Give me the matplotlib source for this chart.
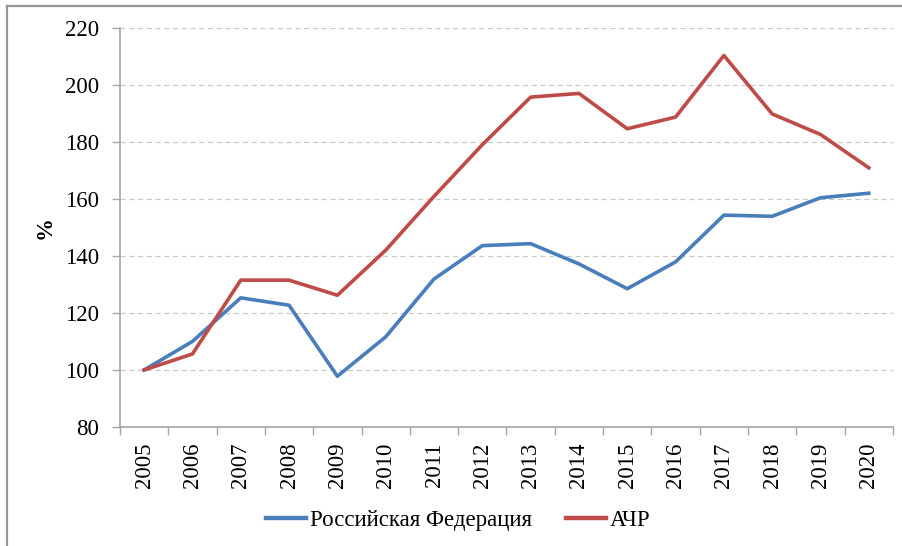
import matplotlib.pyplot as plt
from matplotlib.lines import Line2D
import numpy as np

plt.rcParams['font.family'] = ['Liberation Serif', 'DejaVu Serif']

years = ['2005', '2006', '2007', '2008', '2009', '2010', '2011', '2012',
         '2013', '2014', '2015', '2016', '2017', '2018', '2019', '2020']
russia = [100, 110, 125.3, 122.7, 97.8, 111.6, 131.9, 143.6,
          144.3, 137.2, 128.5, 137.9, 154.3, 153.9, 160.4, 162.0]
achr = [100, 105.6, 131.5, 131.5, 126.2, 142.0, 160.9, 179.0,
        195.7, 197.0, 184.6, 188.7, 210.3, 189.8, 182.6, 170.9]

blue = '#4a7ebb'
red = '#be4b48'
grey = '#a6a6a6'
fs = 16.5

fig = plt.figure(figsize=(9.02, 5.46), dpi=100)
# outer chart frame (only top and left edges visible in the crop)
fig.add_artist(Line2D([7 / 902, 7 / 902], [0, 1 - 6 / 546], transform=fig.transFigure,
                      color='#969696', lw=1.6))
fig.add_artist(Line2D([7 / 902, 1], [1 - 6 / 546, 1 - 6 / 546], transform=fig.transFigure,
                      color='#969696', lw=1.6))

ax = fig.add_axes([0.133, 0.218, 0.857, 0.731])

x = np.arange(len(years))
ax.plot(x, russia, color=blue, lw=2.6, label='Российская Федерация', solid_joinstyle='round')
ax.plot(x, achr, color=red, lw=2.6, label='АЧР', solid_joinstyle='round')

ax.set_xlim(-0.5, len(years) - 0.5)
ax.set_ylim(80, 220)
ax.set_yticks(range(80, 221, 20))
ax.set_xticks(x)
ax.set_xticklabels(years, rotation=90, fontsize=fs)
ax.set_xticks(np.arange(-0.5, len(years)), minor=True)
ax.tick_params(axis='x', which='major', length=0, pad=11)
ax.tick_params(axis='x', which='minor', length=6, color=grey, width=1)
ax.tick_params(axis='y', length=6, color=grey, width=1, labelsize=fs, pad=9)

ax.grid(axis='y', color='#c8c8c8', linestyle=(0, (4, 3)), lw=0.9)
ax.set_axisbelow(True)
for s in ['top', 'right']:
    ax.spines[s].set_visible(False)
for s in ['left', 'bottom']:
    ax.spines[s].set_color(grey)
    ax.spines[s].set_linewidth(1.2)

ax.set_ylabel('%', fontsize=fs, fontweight='bold', labelpad=7)

handles = [Line2D([0], [0], color=blue, lw=3.2), Line2D([0], [0], color=red, lw=3.2)]
fig.legend(handles, ['Российская Федерация', 'АЧР'], loc='center',
           bbox_to_anchor=(0.508, 0.047), ncol=2, frameon=False, fontsize=fs,
           handlelength=1.75, handletextpad=0.15, columnspacing=1.5)

fig.savefig('out.png', dpi=100)
